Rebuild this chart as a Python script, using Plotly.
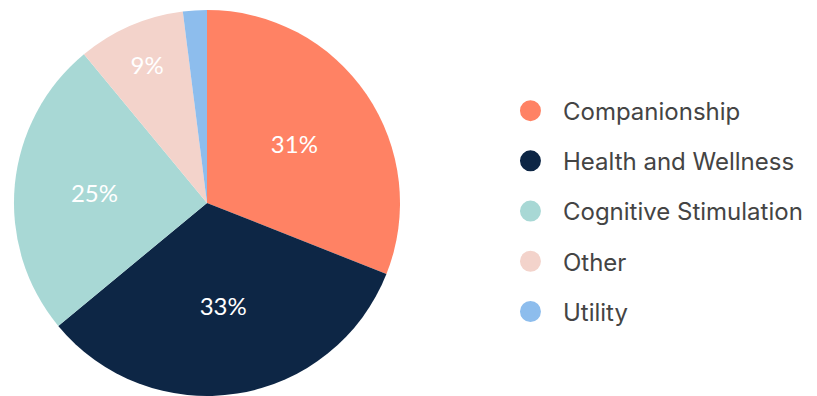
import plotly.graph_objects as go

# Share of use cases
categories = ["Companionship", "Health and Wellness", "Cognitive Stimulation", "Other", "Utility"]
shares = [31, 33, 25, 9, 2]
colors = ["#FF8264", "#0D2645", "#A8D8D5", "#F3D3CB", "#8DBDED"]
show_label = [True, True, True, True, False]

fig = go.Figure()

fig.add_trace(go.Pie(
    labels=categories,
    values=shares,
    sort=False,
    direction="clockwise",
    rotation=0,
    marker=dict(colors=colors, line=dict(width=0)),
    texttemplate=["%{percent:.0%}" if s else "" for s in show_label],
    textposition="inside",
    insidetextorientation="horizontal",
    textfont=dict(family="Lato, Open Sans, sans-serif", size=24, color="white"),
    domain=dict(x=[0.0171, 0.4896], y=[0.0, 0.975]),
    showlegend=False,
    hoverinfo="label+percent",
))

# Legend entries with round swatches
for name, col in zip(categories, colors):
    fig.add_trace(go.Scatter(
        x=[None], y=[None], mode="markers", name=name,
        legendgroup=name,
        marker=dict(symbol="circle", size=16, color=col,
                    line=dict(color=col, width=5)),
    ))

fig.update_layout(
    width=817, height=396,
    margin=dict(l=0, r=0, t=0, b=0),
    paper_bgcolor="white",
    plot_bgcolor="white",
    xaxis=dict(visible=False),
    yaxis=dict(visible=False),
    legend=dict(
        x=0.6095, y=0.467, xanchor="left", yanchor="middle",
        font=dict(family="Inter, Liberation Sans, sans-serif", size=24, color="#444444"),
        tracegroupgap=16,
        itemwidth=55,
        bgcolor="rgba(0,0,0,0)",
    ),
)

fig.write_html("out.html")
